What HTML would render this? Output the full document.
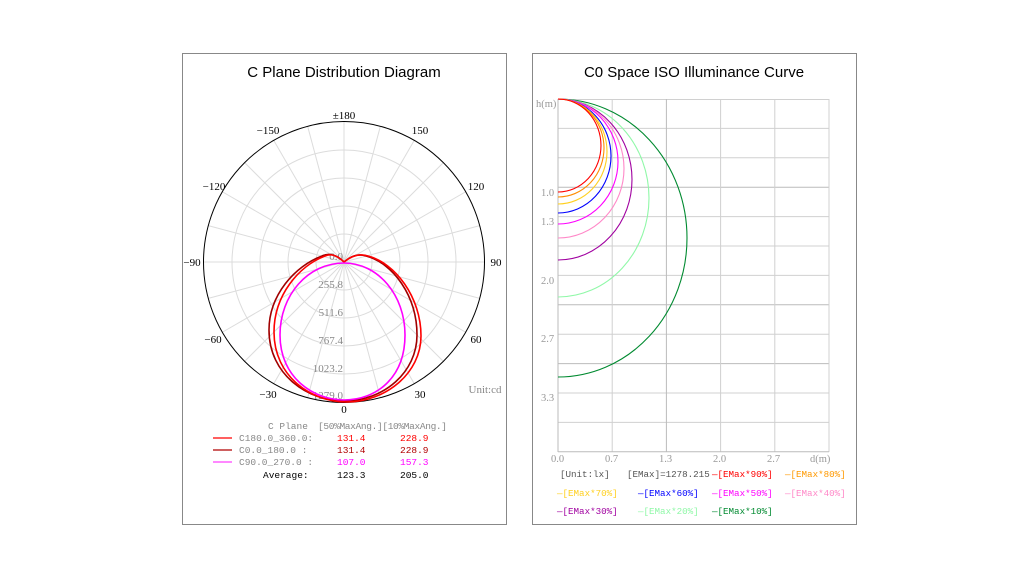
<!DOCTYPE html>
<html><head><meta charset="utf-8"><style>
html,body{margin:0;padding:0;background:#fff;}
svg{display:block;}
</style></head><body>
<svg width="1023" height="575" viewBox="0 0 1023 575" xmlns="http://www.w3.org/2000/svg">
<rect width="1023" height="575" fill="#fff"/>
<rect x="182.5" y="53.5" width="324" height="471" fill="#fff" stroke="#888" stroke-width="1"/>
<rect x="532.5" y="53.5" width="324" height="471" fill="#fff" stroke="#888" stroke-width="1"/>
<text x="344" y="77" font-family="Liberation Sans, sans-serif" font-size="15" text-anchor="middle" fill="#000">C Plane Distribution Diagram</text>
<text x="694" y="77" font-family="Liberation Sans, sans-serif" font-size="15" text-anchor="middle" fill="#000">C0 Space ISO Illuminance Curve</text>

<!-- polar grid -->
<g stroke="#dcdcdc" stroke-width="1" fill="none">
<circle cx="344" cy="262" r="28"/><circle cx="344" cy="262" r="56"/><circle cx="344" cy="262" r="84"/><circle cx="344" cy="262" r="112"/>
<line x1="344" y1="121.5" x2="344" y2="402.5"/>
<line x1="344" y1="121.5" x2="344" y2="402.5" transform="rotate(15 344 262)"/>
<line x1="344" y1="121.5" x2="344" y2="402.5" transform="rotate(30 344 262)"/>
<line x1="344" y1="121.5" x2="344" y2="402.5" transform="rotate(45 344 262)"/>
<line x1="344" y1="121.5" x2="344" y2="402.5" transform="rotate(60 344 262)"/>
<line x1="344" y1="121.5" x2="344" y2="402.5" transform="rotate(75 344 262)"/>
<line x1="344" y1="121.5" x2="344" y2="402.5" transform="rotate(90 344 262)"/>
<line x1="344" y1="121.5" x2="344" y2="402.5" transform="rotate(105 344 262)"/>
<line x1="344" y1="121.5" x2="344" y2="402.5" transform="rotate(120 344 262)"/>
<line x1="344" y1="121.5" x2="344" y2="402.5" transform="rotate(135 344 262)"/>
<line x1="344" y1="121.5" x2="344" y2="402.5" transform="rotate(150 344 262)"/>
<line x1="344" y1="121.5" x2="344" y2="402.5" transform="rotate(165 344 262)"/>
</g>
<circle cx="344" cy="262" r="140.5" fill="none" stroke="#000" stroke-width="1"/>
<g font-family="Liberation Serif, serif" font-size="11" fill="#888" text-anchor="end">
<text x="343" y="260">0.0</text>
<text x="343" y="288">255.8</text>
<text x="343" y="316">511.6</text>
<text x="343" y="344">767.4</text>
<text x="343" y="372">1023.2</text>
<text x="343" y="399">1279.0</text>
</g>
<!-- curves -->
<g fill="none" stroke-width="1.6">
<path stroke="#a00000" d="M344,262 C338,256 330,252 322,256 C295,266 269,295 269,330 C269,375 308,401 344,401 C384,401 417,372 417,335 C417,296 393,263 366,256 C357,253 350,257 344,262Z"/>
<path stroke="#ff0000" d="M344,262 C338,256 332,253 325,256 C299,266 274,295 274,332 C274,377 312,402 346,402 C386,402 421,373 421,336 C421,297 395,263 368,256 C358,253 350,257 344,262Z"/>
<path stroke="#ff00ff" d="M344,263 C308,263 280,295 280,335 C280,378 314,400 344,400 C376,400 405,378 405,335 C405,295 378,263 344,263Z"/>
</g>
<g font-family="Liberation Serif, serif" font-size="11" fill="#000" text-anchor="middle">
<text x="344" y="119">±180</text>
<text x="268" y="134">−150</text>
<text x="420" y="134">150</text>
<text x="214" y="190">−120</text>
<text x="476" y="190">120</text>
<text x="192" y="266">−90</text>
<text x="496" y="266">90</text>
<text x="213" y="343">−60</text>
<text x="476" y="343">60</text>
<text x="268" y="398">−30</text>
<text x="420" y="398">30</text>
<text x="344" y="413">0</text>
<text x="485" y="393" fill="#888">Unit:cd</text>
</g>
<!-- left legend -->
<g font-family="Liberation Mono, monospace" font-size="9.5">
<text x="268" y="429" fill="#888">C Plane</text>
<text x="318" y="429" fill="#888" textLength="129">[50%MaxAng.][10%MaxAng.]</text>
<line x1="213" y1="438" x2="232" y2="438" stroke="#ff0000" stroke-width="1.3"/>
<line x1="213" y1="450" x2="232" y2="450" stroke="#b00000" stroke-width="1.3"/>
<line x1="213" y1="462" x2="232" y2="462" stroke="#ff40ff" stroke-width="1.3"/>
<text x="239" y="441" fill="#888">C180.0_360.0:</text>
<text x="239" y="453" fill="#888">C0.0_180.0  :</text>
<text x="239" y="465" fill="#888">C90.0_270.0 :</text>
<text x="263" y="478" fill="#000">Average:</text>
<text x="337" y="441" fill="#ff0000">131.4</text><text x="400" y="441" fill="#ff0000">228.9</text>
<text x="337" y="453" fill="#b00000">131.4</text><text x="400" y="453" fill="#b00000">228.9</text>
<text x="337" y="465" fill="#ff00ff">107.0</text><text x="400" y="465" fill="#ff00ff">157.3</text>
<text x="337" y="478" fill="#000">123.3</text><text x="400" y="478" fill="#000">205.0</text>
</g>

<!-- right grid -->
<g stroke="#d0d0d0" stroke-width="1">
<line x1="558" y1="128.4" x2="829" y2="128.4"/><line x1="558" y1="157.8" x2="829" y2="157.8"/>
<line x1="558" y1="187.2" x2="829" y2="187.2" stroke="#bbb"/><line x1="558" y1="216.6" x2="829" y2="216.6"/>
<line x1="558" y1="246" x2="829" y2="246"/><line x1="558" y1="275.4" x2="829" y2="275.4"/>
<line x1="558" y1="304.8" x2="829" y2="304.8" stroke="#bbb"/><line x1="558" y1="334.2" x2="829" y2="334.2"/>
<line x1="558" y1="363.6" x2="829" y2="363.6" stroke="#bbb"/><line x1="558" y1="393" x2="829" y2="393"/>
<line x1="558" y1="422.4" x2="829" y2="422.4"/>
<line x1="558" y1="99.5" x2="829" y2="99.5"/>
<line x1="612.2" y1="99" x2="612.2" y2="452"/><line x1="666.4" y1="99" x2="666.4" y2="452" stroke="#bbb"/>
<line x1="720.6" y1="99" x2="720.6" y2="452"/><line x1="774.8" y1="99" x2="774.8" y2="452"/>
<line x1="829" y1="99" x2="829" y2="452"/>
</g>
<line x1="558" y1="99" x2="558" y2="452" stroke="#bbb"/>
<line x1="558" y1="451.8" x2="829" y2="451.8" stroke="#bbb"/>
<g fill="none" stroke-width="1.1">
<path stroke="#008a30" d="M558,99 A129,139 0 0 1 558,377"/>
<path stroke="#90f8a8" d="M558,99 A91,99 0 0 1 558,297"/>
<path stroke="#a000a0" d="M558,99 A74,80.5 0 0 1 558,260"/>
<path stroke="#ff88c8" d="M558,99 A66,69.5 0 0 1 558,238"/>
<path stroke="#ff00ff" d="M558,99 A60,62.5 0 0 1 558,224"/>
<path stroke="#0000ff" d="M558,99 A53,57 0 0 1 558,213"/>
<path stroke="#ffd020" d="M558,99 A49,52.5 0 0 1 558,204"/>
<path stroke="#ff8c00" d="M558,99 A46,49 0 0 1 558,197"/>
<path stroke="#ff0000" d="M558,99 A43,46.5 0 0 1 558,192"/>
</g>
<g font-family="Liberation Serif, serif" font-size="10.5" fill="#999">
<text x="536" y="107">h(m)</text>
<text x="541" y="196">1.0</text>
<text x="541" y="225">1.3</text>
<text x="541" y="284">2.0</text>
<text x="541" y="342">2.7</text>
<text x="541" y="401">3.3</text>
<text x="551" y="462">0.0</text>
<text x="605" y="462">0.7</text>
<text x="659" y="462">1.3</text>
<text x="713" y="462">2.0</text>
<text x="767" y="462">2.7</text>
<text x="810" y="462">d(m)</text>
</g>
<g font-family="Liberation Mono, monospace" font-size="9.2">
<text x="560" y="477" fill="#555">[Unit:lx]</text>
<text x="627" y="477" fill="#555">[EMax]=1278.215</text>
<text x="712" y="477" fill="#ff0000">—[EMax*90%]</text>
<text x="785" y="477" fill="#ff9900">—[EMax*80%]</text>
<text x="557" y="496" fill="#ffd020">—[EMax*70%]</text>
<text x="638" y="496" fill="#0000ff">—[EMax*60%]</text>
<text x="712" y="496" fill="#ff00ff">—[EMax*50%]</text>
<text x="785" y="496" fill="#ff88c8">—[EMax*40%]</text>
<text x="557" y="514" fill="#a000a0">—[EMax*30%]</text>
<text x="638" y="514" fill="#90f8a8">—[EMax*20%]</text>
<text x="712" y="514" fill="#008a30">—[EMax*10%]</text>
</g>
</svg>
</body></html>
